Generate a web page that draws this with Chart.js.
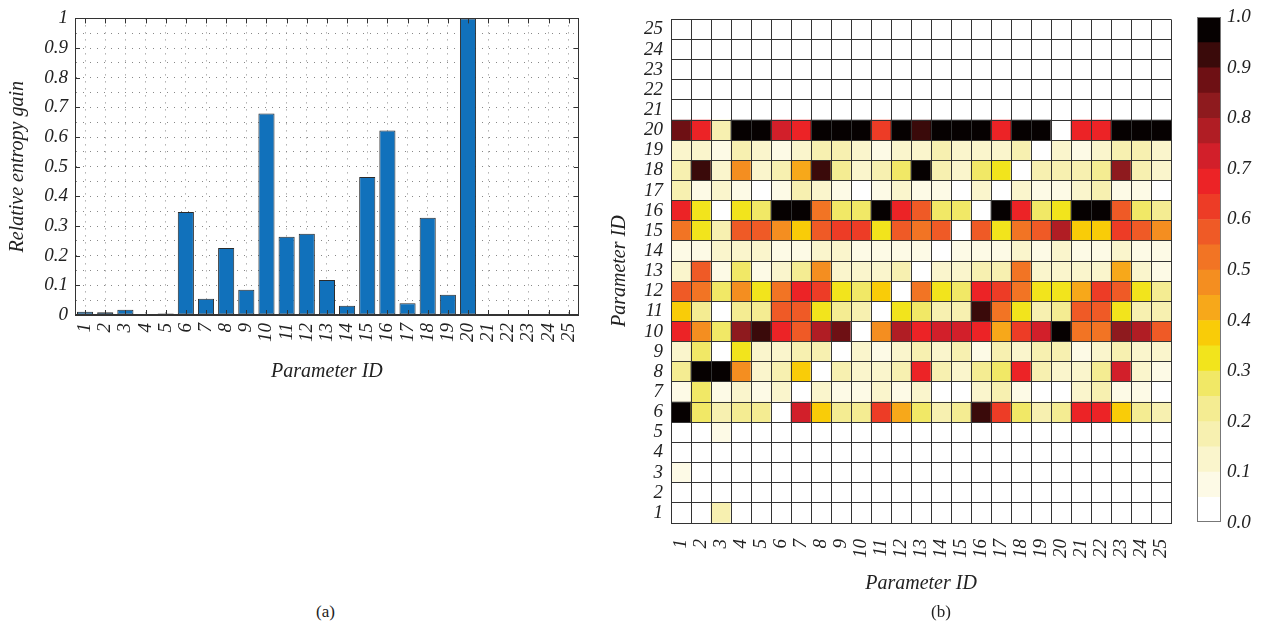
<!DOCTYPE html>
<html>
<head>
<meta charset="utf-8">
<script src="https://cdn.jsdelivr.net/npm/chart.js@4.4.1/dist/chart.umd.min.js"></script>
<style>
  body { margin: 0; background: #fff; width: 1268px; height: 631px; position: relative; overflow: hidden; }
  canvas { position: absolute; top: 0; }
  .cap { position: absolute; font: 17px "Liberation Serif", serif; color: #222; }
</style>
</head>
<body>
<canvas id="gain" style="left:0px" width="600" height="390"></canvas>
<canvas id="heat" style="left:590px" width="610" height="610"></canvas>
<canvas id="cbar" style="left:1190px" width="78" height="540"></canvas>
<div class="cap" style="left:316px;top:602px">(a)</div>
<div class="cap" style="left:931px;top:602px">(b)</div>
<script>
// parameter ids (x categories / heatmap rows)
const params = ['1','2','3','4','5','6','7','8','9','10','11','12','13','14','15','16','17','18','19','20','21','22','23','24','25'];

// (a) relative entropy gain per parameter
const gain = [0.011, 0.009, 0.018, 0.002, 0.005, 0.347, 0.055, 0.226, 0.085, 0.679, 0.264, 0.274, 0.118,
              0.031, 0.465, 0.622, 0.040, 0.328, 0.068, 1.0, 0, 0, 0, 0, 0];

// (b) heatmap rows, row k = parameter k, columns = parameter 1..25
const r1  = [0, 0, 0.15, 0, 0, 0.02, 0, 0, 0, 0, 0, 0, 0, 0, 0, 0, 0.02, 0, 0, 0, 0, 0, 0, 0, 0];
const r2  = [0, 0, 0, 0, 0, 0, 0, 0, 0, 0, 0, 0, 0, 0, 0, 0, 0, 0, 0, 0, 0, 0, 0, 0, 0];
const r3  = [0.06, 0, 0, 0, 0, 0, 0, 0, 0, 0, 0, 0, 0, 0, 0, 0, 0, 0, 0, 0, 0, 0, 0, 0, 0];
const r4  = [0, 0.01, 0, 0, 0, 0, 0, 0, 0, 0, 0, 0, 0, 0, 0, 0, 0, 0, 0, 0, 0, 0, 0, 0, 0];
const r5  = [0, 0, 0.06, 0, 0, 0, 0, 0, 0, 0, 0, 0, 0, 0, 0, 0, 0, 0, 0, 0, 0, 0, 0, 0, 0];
const r6  = [1, 0.27, 0.17, 0.23, 0.23, 0, 0.72, 0.37, 0.22, 0.22, 0.6, 0.43, 0.25, 0.17, 0.2, 0.92, 0.6, 0.28, 0.17, 0.22, 0.65, 0.68, 0.38, 0.2, 0.17];
const r7  = [0.05, 0.27, 0.07, 0.12, 0.05, 0.12, 0.02, 0.12, 0.07, 0.05, 0.1, 0.08, 0.1, 0.03, 0.03, 0.12, 0.15, 0.07, 0.03, 0.03, 0.12, 0.15, 0.07, 0.05, 0.03];
const r8  = [0.2, 1, 1, 0.45, 0.12, 0.15, 0.37, 0, 0.15, 0.12, 0.12, 0.17, 0.65, 0.15, 0.1, 0.2, 0.27, 0.66, 0.15, 0.12, 0.12, 0.2, 0.73, 0.12, 0.08];
const r9  = [0.12, 0.25, 0, 0.3, 0.12, 0.12, 0.15, 0.17, 0.02, 0.12, 0.07, 0.12, 0.15, 0.12, 0.15, 0.08, 0.15, 0.12, 0.15, 0.15, 0.07, 0.12, 0.17, 0.12, 0.1];
const r10 = [0.67, 0.47, 0.25, 0.83, 0.93, 0.66, 0.57, 0.78, 0.85, 0, 0.47, 0.77, 0.67, 0.73, 0.71, 0.67, 0.43, 0.6, 0.7, 1, 0.53, 0.53, 0.82, 0.76, 0.58];
const r11 = [0.38, 0.2, 0, 0.2, 0.2, 0.58, 0.57, 0.3, 0.2, 0.17, 0, 0.3, 0.27, 0.17, 0.17, 0.92, 0.5, 0.3, 0.17, 0.2, 0.55, 0.55, 0.3, 0.17, 0.15];
const r12 = [0.57, 0.52, 0.27, 0.47, 0.3, 0.5, 0.66, 0.63, 0.32, 0.27, 0.38, 0, 0.52, 0.3, 0.25, 0.65, 0.6, 0.52, 0.3, 0.33, 0.42, 0.6, 0.55, 0.3, 0.22];
const r13 = [0.12, 0.57, 0.08, 0.25, 0.08, 0.12, 0.2, 0.47, 0.12, 0.1, 0.12, 0.15, 0, 0.1, 0.1, 0.15, 0.15, 0.5, 0.1, 0.12, 0.12, 0.1, 0.42, 0.1, 0.07];
const r14 = [0.05, 0.05, 0.12, 0.1, 0.1, 0.05, 0.07, 0.1, 0.1, 0.07, 0.05, 0.08, 0.08, 0, 0.08, 0.07, 0.08, 0.1, 0.08, 0.1, 0.05, 0.07, 0.1, 0.08, 0.05];
const r15 = [0.52, 0.33, 0.15, 0.58, 0.58, 0.45, 0.38, 0.58, 0.6, 0.6, 0.3, 0.58, 0.52, 0.55, 0, 0.55, 0.3, 0.5, 0.55, 0.78, 0.36, 0.36, 0.6, 0.55, 0.47];
const r16 = [0.65, 0.33, 0, 0.3, 0.27, 1, 1, 0.53, 0.25, 0.25, 1, 0.65, 0.57, 0.27, 0.25, 0, 1, 0.65, 0.25, 0.3, 1, 1, 0.55, 0.25, 0.22];
const r17 = [0.15, 0.05, 0.1, 0.07, 0.02, 0.08, 0.15, 0.1, 0.05, 0.03, 0.08, 0.1, 0.08, 0.05, 0.03, 0.12, 0, 0.1, 0.05, 0.05, 0.1, 0.17, 0.07, 0.05, 0.03];
const r18 = [0.17, 0.93, 0.12, 0.45, 0.12, 0.17, 0.4, 0.93, 0.2, 0.12, 0.17, 0.25, 1, 0.17, 0.12, 0.28, 0.3, 0, 0.17, 0.17, 0.15, 0.22, 0.82, 0.15, 0.12];
const r19 = [0.1, 0.12, 0.08, 0.15, 0.13, 0.07, 0.12, 0.15, 0.15, 0.12, 0.07, 0.12, 0.12, 0.15, 0.1, 0.12, 0.12, 0.15, 0, 0.12, 0.08, 0.12, 0.15, 0.17, 0.12];
const r20 = [0.85, 0.67, 0.17, 1, 1, 0.73, 0.67, 1, 1, 1, 0.62, 1, 0.93, 1, 1, 1, 0.67, 1, 1, 0, 0.66, 0.66, 1, 1, 1];
const r21 = [0, 0, 0, 0, 0, 0, 0, 0, 0, 0, 0, 0, 0, 0, 0, 0, 0, 0, 0, 0, 0, 0, 0, 0, 0];
const r22 = [0, 0, 0, 0, 0, 0, 0, 0, 0, 0, 0, 0, 0, 0, 0, 0, 0, 0, 0, 0, 0, 0, 0, 0, 0];
const r23 = [0, 0, 0, 0, 0, 0, 0, 0, 0, 0, 0, 0, 0, 0, 0, 0, 0, 0, 0, 0, 0, 0, 0, 0, 0];
const r24 = [0, 0, 0, 0, 0, 0, 0, 0, 0, 0, 0, 0, 0, 0, 0, 0, 0, 0, 0, 0, 0, 0, 0, 0, 0];
const r25 = [0, 0, 0, 0, 0, 0, 0, 0, 0, 0, 0, 0, 0, 0, 0, 0, 0, 0, 0, 0, 0, 0, 0, 0, 0];
const heatRows = [r1, r2, r3, r4, r5, r6, r7, r8, r9, r10, r11, r12, r13, r14, r15, r16, r17, r18, r19, r20, r21, r22, r23, r24, r25];

// colour bar: 20 steps from 0 to 1
const palette = ['#ffffff', '#fdfae6', '#faf5cc', '#f7f0b0', '#f4ec92', '#f1e866', '#f2e41c', '#f9cc08', '#f7a81a', '#f48e20',
                 '#f27424', '#ef5a26', '#ed3c26', '#ec2326', '#d21f2a', '#b01d24', '#8e1a1e', '#6e1014', '#3a0a0a', '#060101'];
const cbTicks = ['0.0', '0.1', '0.2', '0.3', '0.4', '0.5', '0.6', '0.7', '0.8', '0.9', '1.0'];

let heatColor = function(v) {
  return palette[Math.min(palette.length - 1, Math.floor(v * palette.length + 1e-9))];
};

Chart.defaults.font.family = '"Liberation Serif", "Times New Roman", serif';
Chart.defaults.font.style = 'italic';
Chart.defaults.font.size = 19;
Chart.defaults.color = '#222';
Chart.defaults.animation = false;
Chart.defaults.plugins.legend.display = false;
Chart.defaults.plugins.tooltip.enabled = false;

let tickFont = { size: 19, style: 'italic' };
let titleFont = { size: 20, style: 'italic' };

// box round the plot area, with little inward tick marks
let boxPlugin = {
  id: 'box',
  afterDraw(chart, args, opts) {
    let ctx = chart.ctx, a = chart.chartArea;
    ctx.save();
    ctx.strokeStyle = opts.color || '#333';
    ctx.lineWidth = 1;
    ctx.strokeRect(Math.round(a.left) + 0.5, Math.round(a.top) + 0.5,
                   Math.round(a.right - a.left) - 1, Math.round(a.bottom - a.top) - 1);
    if (opts.ticks) {
      let xs = chart.scales.x, ys = chart.scales.y;
      ctx.beginPath();
      xs.ticks.forEach(function(t, i) {
        let x = Math.round(xs.getPixelForTick(i)) + 0.5;
        ctx.moveTo(x, a.top); ctx.lineTo(x, a.top + 5);
        ctx.moveTo(x, a.bottom); ctx.lineTo(x, a.bottom - 5);
      });
      ys.ticks.forEach(function(t) {
        if (Math.abs(t.value * 10 - Math.round(t.value * 10)) > 1e-6) return;
        let y = Math.round(ys.getPixelForValue(t.value)) + 0.5;
        ctx.moveTo(a.left, y); ctx.lineTo(a.left + 5, y);
        ctx.moveTo(a.right, y); ctx.lineTo(a.right - 5, y);
      });
      ctx.stroke();
    }
    ctx.restore();
  }
};

// ---- (a) bar chart
new Chart(document.getElementById('gain').getContext('2d'), {
  type: 'bar',
  data: {
    labels: params,
    datasets: [{
      data: gain,
      backgroundColor: '#1171bb',
      borderColor: '#2b2b2b',
      borderWidth: 1,
      borderSkipped: false,
      barPercentage: 0.8,
      categoryPercentage: 1
    }]
  },
  plugins: [boxPlugin],
  options: {
    responsive: false,
    layout: { padding: { top: 12, right: 21, left: 0, bottom: 0 } },
    plugins: { box: { ticks: true, color: '#333' } },
    scales: {
      x: {
        grid: { offset: false, color: '#888', lineWidth: 1, drawTicks: false },
        border: { color: '#333', dash: [1, 6] },
        ticks: { font: tickFont, minRotation: 90, maxRotation: 90, padding: 8, autoSkip: false },
        title: { display: true, text: 'Parameter ID', font: titleFont, padding: { top: 4, bottom: 6 } },
        afterFit: function(s) { s.height = 75; }
      },
      y: {
        min: 0, max: 1,
        grid: { color: '#888', lineWidth: 1, drawTicks: false },
        border: { color: '#333', dash: [1, 6] },
        ticks: {
          stepSize: 0.05, autoSkip: false, font: tickFont, padding: 7,
          callback: function(v) {
            if (Math.abs(v * 10 - Math.round(v * 10)) > 1e-6) return '';
            if (v === 0) return '0';
            if (Math.abs(v - 1) < 1e-6) return '1';
            return v.toFixed(1);
          }
        },
        title: { display: true, text: 'Relative entropy gain', font: titleFont, padding: { top: 6, bottom: 4 } },
        afterFit: function(s) { s.width = 75; }
      }
    }
  }
});

// ---- (b) heat map, one stacked bar segment per cell
let heatSets = heatRows.map(function(row, i) {
  return {
    label: params[i],
    data: row.map(function() { return 1; }),
    backgroundColor: row.map(heatColor),
    borderWidth: 0,
    barPercentage: 1,
    categoryPercentage: 1
  };
});

new Chart(document.getElementById('heat').getContext('2d'), {
  type: 'bar',
  data: { labels: params, datasets: heatSets },
  options: {
    responsive: false,
    layout: { padding: { top: 12, right: 8, left: 0, bottom: 0 } },
    scales: {
      x: {
        stacked: true,
        grid: { offset: true, color: '#333', lineWidth: 1, drawTicks: false, z: 1 },
        border: { color: '#333', z: 1 },
        ticks: { font: tickFont, minRotation: 90, maxRotation: 90, padding: 16, autoSkip: false },
        title: { display: true, text: 'Parameter ID', font: titleFont, padding: { top: 4, bottom: 14 } },
        afterFit: function(s) { s.height = 87; }
      },
      y: {
        stacked: true,
        min: 0, max: 25,
        grid: { color: '#333', lineWidth: 1, drawTicks: false, z: 1 },
        border: { color: '#333', z: 1 },
        ticks: { stepSize: 1, display: false },
        afterFit: function(s) { s.width = 0; }
      },
      yl: {
        type: 'category',
        position: 'left',
        weight: 1,
        labels: params.slice().reverse(),
        offset: true,
        grid: { display: false, drawTicks: false },
        border: { display: false },
        ticks: { font: tickFont, padding: 8, autoSkip: false },
        title: { display: true, text: 'Parameter ID', font: titleFont, padding: { top: 18, bottom: 4 } },
        afterFit: function(s) { s.width = 81; }
      }
    }
  }
});

// ---- colour bar
let cbSets = palette.map(function(c) {
  return { data: [0.05], backgroundColor: c, borderWidth: 0, barPercentage: 1, categoryPercentage: 1 };
});

new Chart(document.getElementById('cbar').getContext('2d'), {
  type: 'bar',
  data: { labels: [''], datasets: cbSets },
  plugins: [boxPlugin],
  options: {
    responsive: false,
    layout: { padding: { top: 12, right: 0, left: 7, bottom: 17 } },
    plugins: { box: { ticks: false, color: '#777' } },
    scales: {
      x: { stacked: true, display: false },
      y: {
        stacked: true,
        position: 'right',
        min: 0, max: 1,
        grid: { display: false, drawTicks: false },
        border: { display: false },
        ticks: {
          stepSize: 0.1, font: tickFont, padding: 6, autoSkip: false,
          callback: function(v, i) { return cbTicks[i]; }
        },
        afterFit: function(s) { s.width = 47; }
      }
    }
  }
});
</script>
</body>
</html>
